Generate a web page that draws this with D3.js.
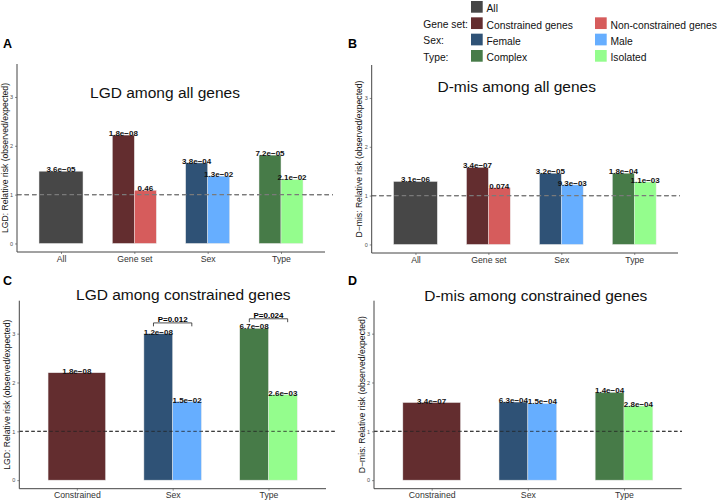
<!DOCTYPE html>
<html>
<head>
<meta charset="utf-8">
<script src="https://cdn.jsdelivr.net/npm/d3@7"></script>
<style>
  body { margin: 0; background: #fff; }
  svg { display: block; font-family: "Liberation Sans", Arial, Helvetica, sans-serif; }
</style>
</head>
<body>
<div id="chart"></div>
<script>
// categories on the x axis
var groupsAll = ['All', 'Gene set', 'Sex', 'Type'];
var groupsCon = ['Constrained', 'Sex', 'Type'];

// one entry per bar: which x category and which fill group
var barGroupAll = ['All', 'Gene set', 'Gene set', 'Sex', 'Sex', 'Type', 'Type'];
var barSubAll = ['All', 'Constrained genes', 'Non-constrained genes', 'Female', 'Male', 'Complex', 'Isolated'];
var barGroupCon = ['Constrained', 'Sex', 'Sex', 'Type', 'Type'];
var barSubCon = ['Constrained genes', 'Female', 'Male', 'Complex', 'Isolated'];

// relative risk values and p-value labels
var lgdAllValues = [1.48, 2.22, 1.09, 1.65, 1.38, 1.81, 1.31];
var lgdAllLabels = ['3.6e\u221205', '1.8e\u221208', '0.46', '3.8e\u221204', '1.3e\u221202', '7.2e\u221205', '2.1e\u221202'];
var dmisAllValues = [1.29, 1.58, 1.16, 1.46, 1.22, 1.46, 1.28];
var dmisAllLabels = ['3.1e\u221206', '3.4e\u221207', '0.074', '3.2e\u221205', '9.3e\u221203', '1.8e\u221204', '1.1e\u221203'];
var lgdConValues = [2.2, 3.0, 1.61, 3.11, 1.75];
var lgdConLabels = ['1.8e\u221208', '1.2e\u221208', '1.5e\u221202', '6.7e\u221208', '2.6e\u221203'];
var dmisConValues = [1.59, 1.6, 1.57, 1.8, 1.52];
var dmisConLabels = ['3.4e\u221207', '6.3e\u221204', '1.5e\u221204', '1.4e\u221204', '2.8e\u221204'];

// comparison brackets in panel C
var bracketGroups = ['Sex', 'Type'];
var bracketValues = [3.22, 3.305];
var bracketLabels = ['P=0.012', 'P=0.024'];

var yTicks = [0, 1, 2, 3];

// legend
var fillGroups = ['All', 'Constrained genes', 'Non-constrained genes', 'Female', 'Male', 'Complex', 'Isolated'];
var fillColors = ['#474747', '#632D2F', '#D65C5C', '#2F5276', '#66AEFF', '#477B48', '#94FD8D'];
var legendRowNames = ['', 'Gene set:', 'Sex:', 'Type:'];

var width = 718, height = 501;
var svg = d3.select('#chart').append('svg')
  .attr('width', width)
  .attr('height', height);

var color = d3.scaleOrdinal().domain(fillGroups).range(fillColors);

function drawPanel(p) {
  var g = svg.append('g');
  var x = d3.scalePoint().domain(p.groups).range([p.x0, p.x1]).padding(0.6);
  var y = d3.scaleLinear().domain([-0.175, 3.675]).range([p.yBot, p.yTop]);
  var step = x.step();

  var bars = p.values.map(function(v, i) {
    var grp = p.barGroups[i];
    var members = p.barGroups.filter(function(d) { return d === grp; }).length;
    var k = p.barGroups.slice(0, i).filter(function(d) { return d === grp; }).length;
    var w = 0.6 * step / members;
    return { value: v, label: p.labels[i], sub: p.barSubs[i],
             x: x(grp) - 0.3 * step + k * w, w: w };
  });

  // reference line at 1
  g.append('line')
    .attr('x1', p.x0).attr('x2', p.lineEnd)
    .attr('y1', y(1)).attr('y2', y(1))
    .attr('stroke', p.lineColor)
    .attr('stroke-width', p.lineWidth)
    .attr('stroke-dasharray', p.dash);

  g.selectAll('rect.bar')
    .data(bars)
    .enter().append('rect')
    .attr('class', 'bar')
    .attr('x', function(d) { return d.x; })
    .attr('width', function(d) { return d.w; })
    .attr('y', function(d) { return y(d.value); })
    .attr('height', function(d) { return y(0) - y(d.value); })
    .attr('fill', function(d) { return color(d.sub); })
    .attr('stroke', '#e8e8e8')
    .attr('stroke-width', 0.5);

  // dashed line drawn over the bars too
  g.append('line')
    .attr('x1', p.x0).attr('x2', p.lineEnd)
    .attr('y1', y(1)).attr('y2', y(1))
    .attr('stroke', p.lineColor)
    .attr('stroke-width', p.lineWidth)
    .attr('stroke-dasharray', p.dash);

  g.selectAll('text.val')
    .data(bars)
    .enter().append('text')
    .attr('class', 'val')
    .attr('x', function(d) { return d.x + d.w / 2; })
    .attr('y', function(d) { return y(d.value) + 1; })
    .attr('text-anchor', 'middle')
    .attr('font-size', 8)
    .attr('font-weight', 'bold')
    .attr('fill', '#111')
    .text(function(d) { return d.label; });

  // axes
  var yAxis = d3.axisLeft(y).tickValues(yTicks).tickSize(2).tickPadding(2).tickFormat(d3.format('d'));
  var ya = g.append('g').attr('transform', 'translate(' + p.x0 + ',0)').call(yAxis);
  ya.select('.domain').remove();
  ya.selectAll('line').attr('stroke', '#444').attr('stroke-width', 0.6);
  ya.selectAll('text').attr('font-size', 5.5).attr('fill', '#4d4d4d').attr('font-family', null);

  var xAxis = d3.axisBottom(x).tickSize(2).tickPadding(1.5);
  var xa = g.append('g').attr('transform', 'translate(0,' + p.yBot + ')').call(xAxis);
  xa.select('.domain').remove();
  xa.selectAll('line').attr('stroke', '#444').attr('stroke-width', 0.6);
  xa.selectAll('text').attr('font-size', 8.7).attr('fill', '#333').attr('font-family', null);

  g.append('line')
    .attr('x1', p.x0).attr('x2', p.x0)
    .attr('y1', p.yTop).attr('y2', p.yBot)
    .attr('stroke', '#444').attr('stroke-width', 1);
  g.append('line')
    .attr('x1', p.x0).attr('x2', p.x1)
    .attr('y1', p.yBot).attr('y2', p.yBot)
    .attr('stroke', '#444').attr('stroke-width', 1);

  g.append('text')
    .attr('transform', 'translate(' + p.ylabX + ',' + (p.yTop + p.yBot) / 2 + ') rotate(-90)')
    .attr('text-anchor', 'middle')
    .attr('font-size', 8.6)
    .attr('fill', '#111')
    .text(p.ylab);

  g.append('text')
    .attr('x', p.titleX).attr('y', p.titleY)
    .attr('text-anchor', 'middle')
    .attr('font-size', 15.5)
    .attr('fill', '#111')
    .text(p.title);

  g.append('text')
    .attr('x', p.letterX).attr('y', p.letterY)
    .attr('font-size', 12.5)
    .attr('font-weight', 'bold')
    .attr('fill', '#000')
    .text(p.letter);

  if (p.brackets) {
    var br = g.selectAll('g.bracket')
      .data(p.brackets)
      .enter().append('g')
      .attr('class', 'bracket');
    br.append('path')
      .attr('d', function(d) {
        var xl = x(d.group) - 0.2 * step, xr = x(d.group) + 0.2 * step;
        return 'M' + xl + ',' + y(d.value - 0.07) + 'V' + y(d.value) +
               'H' + xr + 'V' + y(d.value - 0.07);
      })
      .attr('fill', 'none')
      .attr('stroke', '#222')
      .attr('stroke-width', 0.8);
    br.append('text')
      .attr('x', function(d) { return x(d.group); })
      .attr('y', function(d) { return y(d.value) - 1; })
      .attr('text-anchor', 'middle')
      .attr('font-size', 8)
      .attr('font-weight', 'bold')
      .text(function(d) { return d.label; });
  }
}

var brackets = bracketGroups.map(function(gr, i) {
  return { group: gr, value: bracketValues[i], label: bracketLabels[i] };
});

var dashAll = { lineColor: '#7a7a7a', lineWidth: 1.3, dash: '4.5,3' };
var dashCon = { lineColor: '#222', lineWidth: 0.8, dash: '3.5,2.5' };

drawPanel(Object.assign({
  groups: groupsAll, barGroups: barGroupAll, barSubs: barSubAll,
  values: lgdAllValues, labels: lgdAllLabels,
  x0: 17, x1: 325, yTop: 64, yBot: 252, lineEnd: 333,
  ylab: 'LGD: Relative risk (observed/expected)', ylabX: 7.5,
  title: 'LGD among all genes', titleX: 165, titleY: 98.3,
  letter: 'A', letterX: 3, letterY: 48
}, dashAll));

drawPanel(Object.assign({
  groups: groupsAll, barGroups: barGroupAll, barSubs: barSubAll,
  values: dmisAllValues, labels: dmisAllLabels,
  x0: 371.7, x1: 678, yTop: 65, yBot: 253, lineEnd: 680,
  ylab: 'D\u2212mis: Relative risk (observed/expected)', ylabX: 362,
  title: 'D-mis among all genes', titleX: 516.7, titleY: 92.3,
  letter: 'B', letterX: 348, letterY: 48
}, dashAll));

drawPanel(Object.assign({
  groups: groupsCon, barGroups: barGroupCon, barSubs: barSubCon,
  values: lgdConValues, labels: lgdConLabels,
  x0: 19.3, x1: 326, yTop: 300.7, yBot: 488.7, lineEnd: 337,
  ylab: 'LGD: Relative risk (observed/expected)', ylabX: 10,
  title: 'LGD among constrained genes', titleX: 183.3, titleY: 300,
  letter: 'C', letterX: 3, letterY: 285,
  brackets: brackets
}, dashCon));

drawPanel(Object.assign({
  groups: groupsCon, barGroups: barGroupCon, barSubs: barSubCon,
  values: dmisConValues, labels: dmisConLabels,
  x0: 374, x1: 681.7, yTop: 300.7, yBot: 488.7, lineEnd: 682,
  ylab: 'D\u2212mis: Relative risk (observed/expected)', ylabX: 364.5,
  title: 'D-mis among constrained genes', titleX: 535.8, titleY: 301,
  letter: 'D', letterX: 348, letterY: 285
}, dashCon));

// legend: row label, then up to two keys per row
var legendRows = [
  { name: legendRowNames[0], keys: [fillGroups[0]] },
  { name: legendRowNames[1], keys: [fillGroups[1], fillGroups[2]] },
  { name: legendRowNames[2], keys: [fillGroups[3], fillGroups[4]] },
  { name: legendRowNames[3], keys: [fillGroups[5], fillGroups[6]] }
];
var legendY = d3.scalePoint().domain(d3.range(legendRows.length)).range([1, 50]);
var legendKeyX = [471, 595];

var legend = svg.append('g').attr('font-size', 10.3).attr('fill', '#111');
var rows = legend.selectAll('g')
  .data(legendRows)
  .enter().append('g')
  .attr('transform', function(d, i) { return 'translate(0,' + legendY(i) + ')'; });

rows.append('text')
  .attr('x', 423.3)
  .attr('y', 10.8)
  .text(function(d) { return d.name; });

var keys = rows.selectAll('g.key')
  .data(function(d) { return d.keys; })
  .enter().append('g')
  .attr('class', 'key')
  .attr('transform', function(d, i) { return 'translate(' + legendKeyX[i] + ',0)'; });
keys.append('rect')
  .attr('width', 11.7).attr('height', 11.7)
  .attr('fill', function(d) { return color(d); });
keys.append('text')
  .attr('x', 15.5).attr('y', 11.3)
  .text(function(d) { return d; });
</script>
</body>
</html>
